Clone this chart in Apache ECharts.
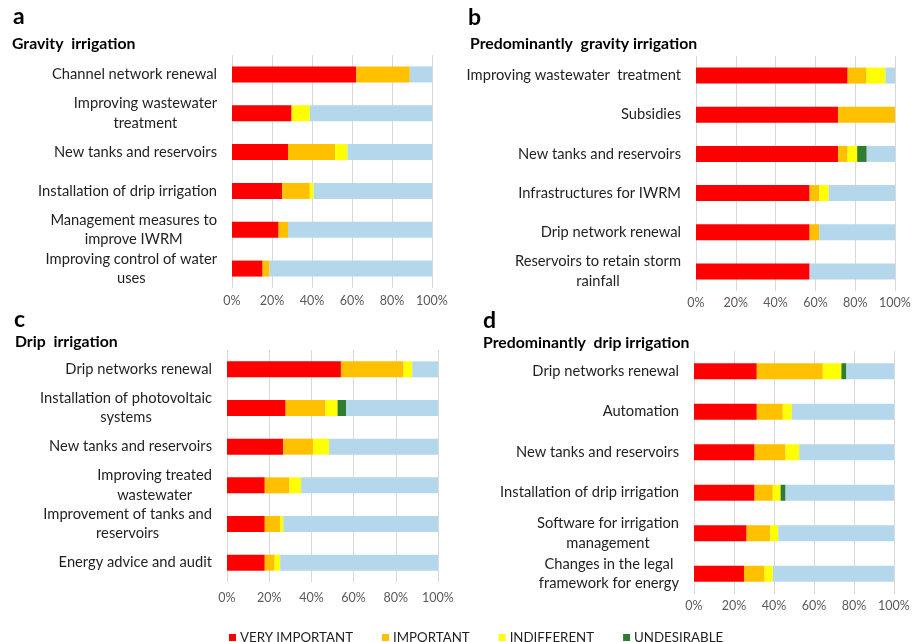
<!DOCTYPE html>
<html>
<head>
<meta charset="utf-8">
<script src="https://cdn.jsdelivr.net/npm/echarts@6/dist/echarts.min.js"></script>
<style>
  html, body { margin: 0; padding: 0; background: #ffffff; }
  #chart { width: 915px; height: 642px; }
</style>
</head>
<body>
<div id="chart"></div>
<script>
// Response categories (stacked left to right) and colours
const levels = ['VERY IMPORTANT', 'IMPORTANT', 'INDIFFERENT', 'UNDESIRABLE', 'NOT MENTIONED'];
const levelColors = ['#ff0000', '#ffc000', '#ffff00', '#2f7d32', '#b4d7ec'];

// Panel a – Gravity irrigation
const catsA = ['Channel network renewal', 'Improving wastewater\ntreatment', 'New tanks and reservoirs',
  'Installation of drip irrigation', 'Management measures to\nimprove IWRM', 'Improving control of water\nuses'];
const veryA = [62.2, 29.8, 28.0, 25.1, 23.3, 15.3];
const impA = [26.7, 0, 23.6, 13.8, 4.7, 3.5];
const indA = [0, 9.1, 6.1, 1.9, 0, 0];
const undA = [0, 0, 0, 0, 0, 0];
const restA = [11.1, 61.1, 42.3, 59.2, 72.0, 81.2];

// Panel b – Predominantly gravity irrigation
const catsB = ['Improving wastewater  treatment', 'Subsidies', 'New tanks and reservoirs',
  'Infrastructures for IWRM', 'Drip network renewal', 'Reservoirs to retain storm\nrainfall'];
const veryB = [76.2, 71.4, 71.4, 57.1, 57.1, 57.1];
const impB = [9.5, 28.6, 4.8, 4.8, 4.8, 0];
const indB = [9.5, 0, 4.8, 4.8, 0, 0];
const undB = [0, 0, 4.8, 0, 0, 0];
const restB = [4.8, 0, 14.2, 33.3, 38.1, 42.9];

// Panel c – Drip irrigation
const catsC = ['Drip networks renewal', 'Installation of photovoltaic\nsystems', 'New tanks and reservoirs',
  'Improving treated\nwastewater', 'Improvement of tanks and\nreservoirs', 'Energy advice and audit'];
const veryC = [54.0, 27.8, 26.6, 17.9, 17.9, 17.9];
const impC = [29.7, 18.9, 14.2, 11.7, 7.3, 4.7];
const indC = [4.1, 5.7, 7.6, 5.5, 1.5, 2.6];
const undC = [0, 4.1, 0, 0, 0, 0];
const restC = [12.2, 43.5, 51.6, 64.9, 73.3, 74.8];

// Panel d – Predominantly drip irrigation
const catsD = ['Drip networks renewal', 'Automation', 'New tanks and reservoirs',
  'Installation of drip irrigation', 'Software for irrigation\nmanagement', 'Changes in the legal\nframework for energy'];
const veryD = [31.4, 31.4, 30.3, 30.3, 26.3, 25.0];
const impD = [33.0, 13.0, 15.5, 9.1, 11.8, 10.3];
const indD = [9.3, 4.5, 6.8, 3.9, 4.0, 4.1];
const undD = [2.5, 0, 0, 2.5, 0, 0];
const restD = [23.8, 51.1, 47.4, 54.2, 57.9, 60.6];

// Axis tick values
const tickMin = 0, tickMax = 100, tickStep = 20;

const FONT = 'Lato, "Open Sans", sans-serif';

const panels = [
  { letter: 'a', title: 'Gravity  irrigation', cats: catsA, data: [veryA, impA, indA, undA, restA],
    grid: { left: 232, width: 200, top: 55, height: 233 }, labelMargin: 6,
    letterPos: [13, 5], titlePos: [12, 36] },
  { letter: 'b', title: 'Predominantly  gravity irrigation', cats: catsB, data: [veryB, impB, indB, undB, restB],
    grid: { left: 696, width: 199, top: 56, height: 235 }, labelMargin: 5,
    letterPos: [468, 6], titlePos: [470, 36] },
  { letter: 'c', title: 'Drip  irrigation', cats: catsC, data: [veryC, impC, indC, undC, restC],
    grid: { left: 227, width: 211, top: 350, height: 232 }, labelMargin: 9,
    letterPos: [14, 308], titlePos: [15, 334] },
  { letter: 'd', title: 'Predominantly  drip irrigation', cats: catsD, data: [veryD, impD, indD, undD, restD],
    grid: { left: 694, width: 200, top: 351, height: 243 }, labelMargin: 5,
    letterPos: [483, 309], titlePos: [483, 335] }
];

const grids = [], xAxes = [], yAxes = [], series = [], titles = [];

panels.forEach((p, i) => {
  grids.push(Object.assign({ containLabel: false }, p.grid));
  xAxes.push({
    type: 'value', gridIndex: i, min: tickMin, max: tickMax, interval: tickStep,
    axisLine: { show: false }, axisTick: { show: false },
    splitLine: { show: true, lineStyle: { color: '#d9d9d9', width: 1 } },
    axisLabel: { formatter: '{value}%', color: '#595959', fontFamily: FONT, fontSize: 12.5, margin: p.labelMargin }
  });
  yAxes.push({
    type: 'category', gridIndex: i, data: p.cats, inverse: true,
    axisLine: { show: false }, axisTick: { show: false }, splitLine: { show: false },
    axisLabel: {
      margin: 15, color: '#1f1f1f', fontFamily: FONT, fontSize: 14.7, lineHeight: 19.5,
      formatter: v => v.split('\n').map(s => '{c|' + s + '}').join('\n'),
      rich: { c: { align: 'center', color: '#1f1f1f', fontFamily: FONT, fontSize: 14.7, lineHeight: 19.5 } }
    }
  });
  levels.forEach((name, k) => {
    series.push({
      name: name, type: 'bar', stack: 'panel' + i, xAxisIndex: i, yAxisIndex: i,
      data: p.data[k], barWidth: 16, itemStyle: { color: levelColors[k] },
      emphasis: { disabled: true }, animation: false
    });
  });
  titles.push({ text: p.letter, left: p.letterPos[0], top: p.letterPos[1], padding: 0,
    textStyle: { fontFamily: FONT, fontWeight: 'bold', fontSize: 23, color: '#000' } });
  titles.push({ text: p.title, left: p.titlePos[0], top: p.titlePos[1], padding: 0,
    textStyle: { fontFamily: FONT, fontWeight: 'bold', fontSize: 15.8, color: '#000' } });
});

const chart = echarts.init(document.getElementById('chart'), null, { renderer: 'canvas' });
chart.setOption({
  backgroundColor: '#ffffff',
  animation: false,
  title: titles,
  grid: grids,
  xAxis: xAxes,
  yAxis: yAxes,
  series: series,
  legend: {
    data: levels.slice(0, 4),
    left: 224, top: 626,
    icon: 'rect', itemWidth: 7, itemHeight: 7, itemGap: 29,
    textStyle: { fontFamily: FONT, fontSize: 13.3, color: '#1f1f1f', padding: [0, 0, 0, -1] },
    selectedMode: false
  }
});
</script>
</body>
</html>
